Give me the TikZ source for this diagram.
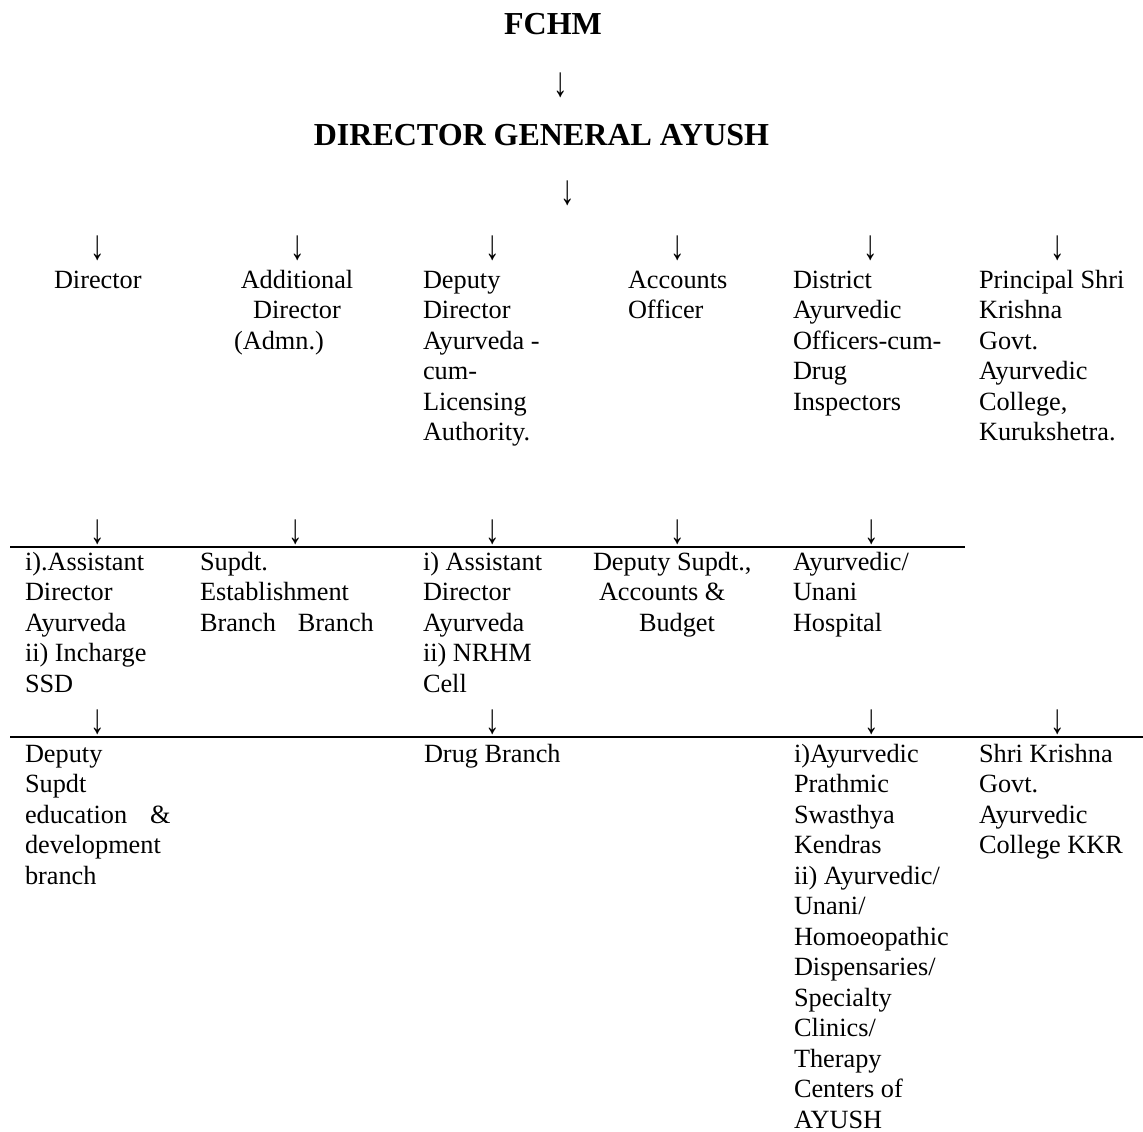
\documentclass[tikz,border=0pt]{standalone}
\usepackage{fontspec}
\setmainfont{Liberation Serif}
\newcommand{\blk}[1]{\begin{tabular}[t]{@{}l@{}}#1\end{tabular}}
\newcommand{\blkc}[1]{\begin{tabular}[t]{@{}c@{}}#1\end{tabular}}
\newcommand{\darr}{\scalebox{1.1}[1.6]{↓}}
\begin{document}
\begin{tikzpicture}[x=1pt,y=-1pt,
  body/.style={inner sep=0pt, outer sep=0pt, font=\fontsize{26.3}{30.5}\selectfont, anchor=base west},
  head/.style={inner sep=0pt, outer sep=0pt, font=\fontsize{32}{38}\selectfont\bfseries, anchor=base},
  dn/.style={inner sep=0pt, outer sep=0pt, font=\fontsize{26.3}{30.5}\selectfont, anchor=center},
  rule/.style={line width=1.8pt}]
\useasboundingbox (0,0) rectangle (1143,1132);
% headings
\node[head] (fchm) at (553,35) {FCHM};
\node[dn] (a0) at (561,85) {\darr};
\node[head] (dg) at (541.5,145) {DIRECTOR GENERAL AYUSH};
\node[dn] (a1) at (568,193.5) {\darr};
% row 1 arrows
\node[dn] (r1a) at (98,248.5) {\darr};
\node[dn] (r1b) at (298,248.5) {\darr};
\node[dn] (r1c) at (493,248.5) {\darr};
\node[dn] (r1d) at (678,248.5) {\darr};
\node[dn] (r1e) at (871,248.5) {\darr};
\node[dn] (r1f) at (1058,248.5) {\darr};
% row 1 texts
\node[body] (dir) at (54,288) {Director};
\node[body, anchor=base] (add) at (297,288) {\blkc{Additional\\Director\\(Admn.)\hspace*{36pt}}};
\node[body] (ddir) at (423,288) {\blk{Deputy\\Director\\Ayurveda -\\cum-\\Licensing\\Authority.}};
\node[body] (acc) at (628,288) {\blk{Accounts\\Officer}};
\node[body] (dao) at (793,288) {\blk{District\\Ayurvedic\\Officers-cum-\\Drug\\Inspectors}};
\node[body] (prin) at (979,288) {\blk{Principal Shri\\Krishna\\Govt.\\Ayurvedic\\College,\\Kurukshetra.}};
% row 2 arrows
\node[dn] (r2a) at (98,532.5) {\darr};
\node[dn] (r2b) at (296,532.5) {\darr};
\node[dn] (r2c) at (493,532.5) {\darr};
\node[dn] (r2d) at (678,532.5) {\darr};
\node[dn] (r2e) at (872,532.5) {\darr};
\coordinate (l1s) at (10,547);
\coordinate (l1e) at (965,547);
\draw[rule] (l1s) -- (l1e);
% row 2 texts
\node[body] (ad) at (25,570) {\blk{i).Assistant\\Director\\Ayurveda\\ii) Incharge\\SSD}};
\node[body] (sup) at (200,570) {\blk{Supdt.\\Establishment\\Branch\hspace{22pt}Branch}};
\node[body] (ad2) at (423,570) {\blk{i) Assistant\\Director\\Ayurveda\\ii) NRHM\\Cell}};
\node[body] (dsup) at (593,570) {\blk{Deputy Supdt.,\\\hspace*{6pt}Accounts \&\\\hspace*{46pt}Budget}};
\node[body] (hosp) at (793,570) {\blk{Ayurvedic/\\Unani\\Hospital}};
% row 3 arrows
\node[dn] (r3a) at (98,722.5) {\darr};
\node[dn] (r3c) at (493,722.5) {\darr};
\node[dn] (r3e) at (872,722.5) {\darr};
\node[dn] (r3f) at (1058,722.5) {\darr};
\coordinate (l2s) at (10,737);
\coordinate (l2e) at (1143,737);
\draw[rule] (l2s) -- (l2e);
% row 3 texts
\node[body] (dsup2) at (25,762) {\blk{Deputy\\Supdt\\education\hspace{23pt}\&\\development\\branch}};
\node[body] (drug) at (424,762) {Drug Branch};
\node[body] (aps) at (794,762) {\blk{i)Ayurvedic\\Prathmic\\Swasthya\\Kendras\\ii) Ayurvedic/\\Unani/\\Homoeopathic\\Dispensaries/\\Specialty\\Clinics/\\Therapy\\Centers of\\AYUSH}};
\node[body] (skc) at (979,762) {\blk{Shri Krishna\\Govt.\\Ayurvedic\\College KKR}};
\end{tikzpicture}
\end{document}
